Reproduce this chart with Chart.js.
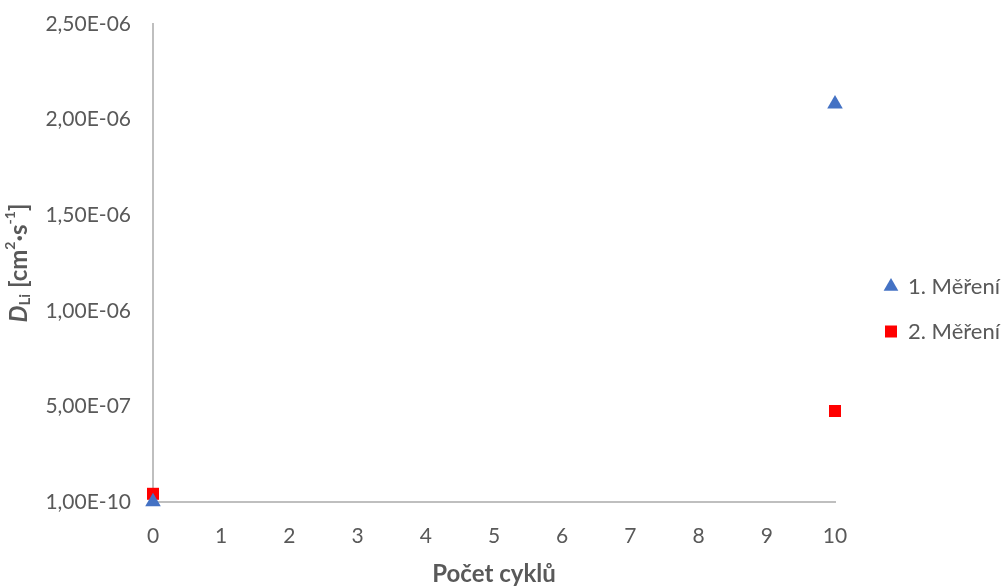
<!DOCTYPE html>
<html>
<head>
<meta charset="utf-8">
<script src="https://cdn.jsdelivr.net/npm/chart.js@4"></script>
<style>
  html, body { margin: 0; padding: 0; background: #fff; }
  #wrap { width: 1005px; height: 586px; }
</style>
</head>
<body>
<div id="wrap"><canvas id="graf"></canvas></div>
<script>
// data
const cykly = [0, 10];
const mereni1 = [1e-9, 2.082e-6];
const mereni2 = [4.3e-8, 4.76e-7];
const yTicks = [1e-10, 5e-7, 1e-6, 1.5e-6, 2e-6, 2.5e-6];
const nazvy = ["1. Měření", "2. Měření"];

const seda = "#595959";
const pismo = "Lato, 'Open Sans', sans-serif";

// 5e-7 -> "5,00E-07"
function formatExp(v) {
  var parts = v.toExponential(2).split("e");
  var ex = parseInt(parts[1], 10);
  return parts[0].replace(".", ",") + "E" + (ex < 0 ? "-" : "+") + String(Math.abs(ex)).padStart(2, "0");
}

// popisek osy Y s kurzivou a indexy
const osaYTitulek = {
  id: "osaYTitulek",
  afterDraw(chart) {
    const ctx = chart.ctx;
    const area = chart.chartArea;
    const kusy = [
      { t: "D", f: "italic bold 24px " + pismo, dy: 0 },
      { t: "Li", f: "bold 15px " + pismo, dy: 6 },
      { t: " [cm", f: "bold 24px " + pismo, dy: 0 },
      { t: "2", f: "bold 14px " + pismo, dy: -9 },
      { t: "·s", f: "bold 24px " + pismo, dy: 0 },
      { t: "-1", f: "bold 14px " + pismo, dy: -9 },
      { t: "]", f: "bold 24px " + pismo, dy: 0 },
    ];
    ctx.save();
    let delka = 0;
    kusy.forEach((k) => {
      ctx.font = k.f;
      k.w = ctx.measureText(k.t).width;
      delka += k.w;
    });
    ctx.translate(19, (area.top + area.bottom) / 2);
    ctx.rotate(-Math.PI / 2);
    ctx.fillStyle = seda;
    ctx.textBaseline = "middle";
    let x = -delka / 2;
    kusy.forEach((k) => {
      ctx.font = k.f;
      ctx.fillText(k.t, x, k.dy);
      x += k.w;
    });
    ctx.restore();
  },
};

new Chart(document.getElementById("graf"), {
  type: "scatter",
  data: {
    datasets: [
      {
        label: nazvy[0],
        data: cykly.map((c, i) => ({ x: c, y: mereni1[i] })),
        pointStyle: "triangle",
        pointRadius: 9,
        pointHoverRadius: 9,
        backgroundColor: "#4472C4",
        borderColor: "#4472C4",
        borderWidth: 0,
        clip: false,
      },
      {
        label: nazvy[1],
        data: cykly.map((c, i) => ({ x: c, y: mereni2[i] })),
        pointStyle: "rect",
        pointRadius: 8.5,
        pointHoverRadius: 8.5,
        backgroundColor: "#FF0000",
        borderColor: "#FF0000",
        borderWidth: 0,
        clip: false,
      },
    ],
  },
  options: {
    responsive: true,
    maintainAspectRatio: false,
    animation: false,
    layout: { padding: { top: 24, right: -5, left: 0, bottom: 0 } },
    scales: {
      x: {
        type: "linear",
        min: 0,
        max: 10,
        ticks: { stepSize: 1, color: seda, font: { family: pismo, size: 21 }, padding: 22 },
        grid: { display: false, drawTicks: false },
        border: { color: "#BFBFBF", width: 2 },
        title: {
          display: true,
          text: "Počet cyklů",
          color: seda,
          font: { family: pismo, size: 24, weight: "bold", lineHeight: 1 },
          padding: { top: 10, bottom: 0 },
        },
        afterFit(scale) { scale.height = 84; },
      },
      y: {
        type: "linear",
        min: 1e-10,
        max: 2.5e-6,
        afterBuildTicks(scale) {
          scale.ticks = yTicks.map((v) => ({ value: v }));
        },
        ticks: {
          color: seda,
          font: { family: pismo, size: 21 },
          padding: 22,
          callback: (v) => formatExp(v),
        },
        grid: { display: false, drawTicks: false },
        border: { color: "#BFBFBF", width: 2 },
        afterFit(scale) {
          scale.width = 153;
          scale.paddingTop = 0;
          scale.paddingBottom = 0;
        },
      },
      // prazdna osa jen jako mezera mezi grafem a legendou
      mezera: {
        type: "linear",
        position: "right",
        display: true,
        ticks: { display: false },
        grid: { display: false, drawTicks: false },
        border: { display: false },
        afterFit(scale) {
          // pravy okraj plochy grafu na x = 835
          const leg = scale.chart.legend;
          scale.width = Math.max(0, 1010 - 835 - (leg ? leg.width : 145));
        },
      },
    },
    plugins: {
      legend: {
        position: "right",
        title: { display: true, text: " ", font: { size: 5 }, padding: { top: 0, bottom: 2 } },
        labels: {
          usePointStyle: true,
          color: seda,
          font: { family: pismo, size: 22 },
          padding: 23,
          boxWidth: 12,
          boxHeight: 12,
        },
      },
      tooltip: { enabled: false },
    },
  },
  plugins: [osaYTitulek],
});
</script>
</body>
</html>
